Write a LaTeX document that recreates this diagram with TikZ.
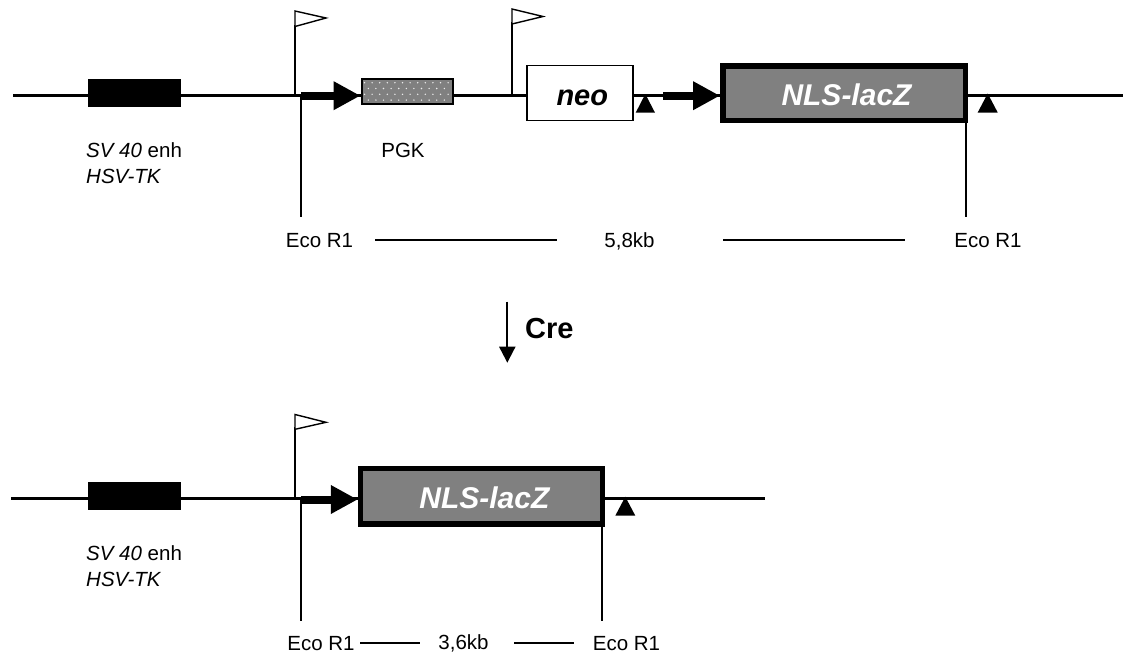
\documentclass[tikz,border=0pt]{standalone}
\usepackage{fontspec}
\setmainfont{Liberation Sans}
\usetikzlibrary{arrows.meta}
\definecolor{boxgray}{HTML}{808080}
\tikzset{
 x=1pt,y=-1pt,
 dna/.style={line width=2.5pt,black},
 stem/.style={line width=2.3pt,black},
 spanline/.style={line width=1.8pt,black},
 flagpole/.style={line width=1.6pt,black},
 flagshape/.style={draw=black,fill=white,line width=1.4pt,line join=miter},
 lox/.style={fill=black,draw=none},
 lab/.style={font=\fontsize{20.5}{25.7}\selectfont,inner sep=0pt,text=black,anchor=base},
 labi/.style={font=\fontsize{20.5}{25.7}\selectfont\itshape,inner sep=0pt,align=left,anchor=north west},
 enh/.style={fill=black,draw=none,minimum width=93pt,minimum height=27.5pt,inner sep=0pt},
 lacz/.style={draw=black,fill=boxgray,line width=5.5pt,text=white,font=\fontsize{30}{32}\selectfont\bfseries\itshape,inner sep=0pt},
 promo/.style={line width=8pt,black,-{Triangle[length=27pt,width=27pt]}},
}
\newcommand{\flagat}[5]{% x, top y, tip y, bottom y, base y
 \draw[flagpole] (#1,#5) -- (#1,#4-2);
 \draw[flagshape] (#1,#2) -- (#1+31,#3) -- (#1,#4) -- cycle;
}
\begin{document}
\begin{tikzpicture}
\useasboundingbox (0,0) rectangle (1123,653);
% top row
\coordinate (tl) at (13,95.7); \coordinate (tr) at (1123,95.7);
\draw[dna] (tl) -- (tr);
\node[enh] (enh1) at (134.2,93) {};
\flagat{295}{11}{18}{26.5}{95.7}
\flagat{512}{9}{16.5}{24}{95.7}
\coordinate (e1t) at (301,95.7); \coordinate (e1b) at (301,217);
\draw[stem] (e1t) -- (e1b);
\node[draw=black,line width=2pt,minimum width=91pt,minimum height=25pt,inner sep=0pt,fill=boxgray] (pgk) at (407,91.7) {};
\foreach \j in {0,1,2,3}{
 \pgfmathsetmacro{\off}{mod(\j,2)*3.8}
 \foreach \i in {0,...,11}{
  \pgfmathsetmacro{\dx}{364.5+\i*7.6+\off}
  \ifdim\dx pt<451pt
  \fill[white!85!boxgray] (\dx,82.7+\j*5.8) circle (0.8pt);
  \fi
 }}
\coordinate (p1s) at (301,95.7);
\draw[promo] (p1s) -- (p1s -| pgk.west);
\node[draw=black,fill=white,line width=1.7pt,minimum width=106pt,minimum height=55pt,inner sep=0pt,
 font=\fontsize{29}{32}\selectfont\bfseries\itshape] (neo) at (580.3,93) {\kern4pt\smash{\raisebox{-12pt}{neo}}};
\node[lacz,minimum width=242.5pt,minimum height=54.5pt] (lz1) at (844,93) {\kern5pt\smash{\raisebox{-12pt}{NLS-lacZ}}};
\coordinate (p2s) at (663,95.7);
\draw[promo] (p2s) -- (p2s -| lz1.west);
\fill[lox] (635.7,112.7) -- (655,112.7) -- (645.3,94) -- cycle;
\fill[lox] (977.7,112.5) -- (997.7,112.5) -- (987.7,93.5) -- cycle;
\coordinate (e2t) at (965.7,122); \coordinate (e2b) at (965.7,217);
\draw[stem] (e2t) -- (e2b);
% labels
\node[labi] (s1) at (86,142.5) {SV 40 {\upshape enh}\\HSV-TK};
\node[lab] (pgkl) at (403,157) {PGK};
\node[lab] (er1) at (319.5,247) {Eco R1};
\node[lab] (kb1) at (629.5,247) {5,8kb};
\node[lab] (er2) at (988,247) {Eco R1};
\coordinate (a1) at (375,240); \coordinate (a2) at (557,240);
\coordinate (a3) at (723,240); \coordinate (a4) at (905,240);
\draw[spanline] (a1) -- (a2); \draw[spanline] (a3) -- (a4);
% Cre
\coordinate (c1) at (507.3,301.7); \coordinate (c2) at (507.3,362.7);
\draw[line width=2pt,black,-{Triangle[length=16pt,width=16pt]}] (c1) -- (c2);
\node[lab,font=\fontsize{29}{32}\selectfont\bfseries,anchor=base west] (cre) at (525,338) {Cre};
% bottom row
\coordinate (bl) at (11,498.7); \coordinate (br) at (765,498.7);
\draw[dna] (bl) -- (br);
\node[enh] (enh2) at (134.2,496) {};
\flagat{295}{414.5}{422.3}{429.3}{498.7}
\coordinate (e3t) at (301,498.7); \coordinate (e3b) at (301,620.7);
\draw[stem] (e3t) -- (e3b);
\node[lacz,minimum width=241.8pt,minimum height=55.2pt] (lz2) at (481.4,496.3) {\kern6pt\smash{\raisebox{-12pt}{NLS-lacZ}}};
\coordinate (p3s) at (301,499.5);
\draw[promo] (p3s) -- (p3s -| lz2.west);
\fill[lox] (615.3,515.7) -- (635.3,515.7) -- (625.3,496.7) -- cycle;
\coordinate (e4t) at (602.3,525); \coordinate (e4b) at (602.3,620.7);
\draw[stem] (e4t) -- (e4b);
\node[labi] (s2) at (86,545.5) {SV 40 {\upshape enh}\\HSV-TK};
\node[lab] (er3) at (321,650) {Eco R1};
\node[lab] (kb2) at (463.5,649.5) {3,6kb};
\node[lab] (er4) at (626.5,650) {Eco R1};
\coordinate (b1) at (360,643); \coordinate (b2) at (420,643);
\coordinate (b3) at (514,643); \coordinate (b4) at (574,643);
\draw[spanline] (b1) -- (b2); \draw[spanline] (b3) -- (b4);
\end{tikzpicture}
\end{document}
